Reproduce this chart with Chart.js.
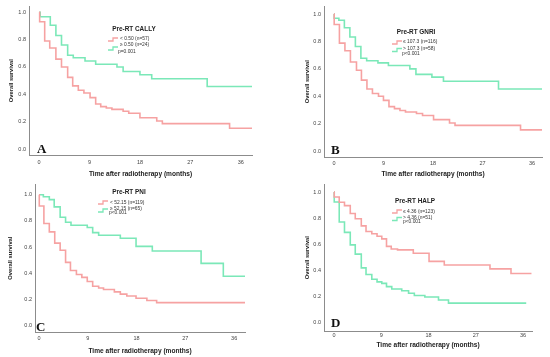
<!DOCTYPE html>
<html>
<head>
<meta charset="utf-8">
<script src="https://cdn.jsdelivr.net/npm/chart.js@4/dist/chart.umd.min.js"></script>
<style>
  html, body { margin: 0; padding: 0; background: #fff; }
  #wrap { position: relative; width: 550px; height: 357px; overflow: hidden; }
  .pane { position: absolute; }
</style>
</head>
<body>
<div id="wrap">
  <div class="pane" style="left:0;top:0;width:275px;height:178px"><canvas id="cA"></canvas></div>
  <div class="pane" style="left:275px;top:0;width:275px;height:178px"><canvas id="cB"></canvas></div>
  <div class="pane" style="left:0;top:178px;width:275px;height:179px"><canvas id="cC"></canvas></div>
  <div class="pane" style="left:275px;top:178px;width:275px;height:179px"><canvas id="cD"></canvas></div>
</div>
<script>
// ---- datos ----
const xTicks = [0, 9, 18, 27, 36];
const yTicks = [0, 0.2, 0.4, 0.6, 0.8, 1.0];

// A: CALLY
const callyLowT  = [0, 0.1, 1.0, 1.9, 3.0, 4.0, 5.1, 6.0, 7.0, 8.0, 9.1, 10.1, 11.0, 12.0, 13.0, 15.0, 16.0, 18.0, 21.0, 22.0, 34.0, 38.0];
const callyLowS  = [1.0, 0.93, 0.79, 0.738, 0.657, 0.6, 0.524, 0.462, 0.43, 0.41, 0.376, 0.33, 0.31, 0.30, 0.29, 0.276, 0.262, 0.229, 0.205, 0.186, 0.152, 0.152];
const callyHighT = [0, 0.2, 2.0, 3.0, 4.0, 5.1, 6.1, 8.2, 10.1, 13.9, 15.0, 18.0, 20.1, 30.0, 38.0];
const callyHighS = [1.0, 0.967, 0.905, 0.83, 0.76, 0.686, 0.667, 0.643, 0.62, 0.60, 0.567, 0.543, 0.514, 0.457, 0.457];

// B: GNRI
const gnriLowT  = [0, 0.05, 1.0, 2.0, 3.0, 4.1, 5.0, 6.0, 7.0, 8.1, 9.0, 10.0, 11.0, 12.0, 13.0, 15.0, 16.1, 18.1, 21.0, 22.0, 33.9, 37.8];
const gnriLowS  = [1.0, 0.924, 0.788, 0.733, 0.65, 0.59, 0.518, 0.453, 0.42, 0.40, 0.37, 0.325, 0.31, 0.296, 0.286, 0.275, 0.26, 0.23, 0.205, 0.188, 0.155, 0.155];
const gnriHighT = [0, 0.05, 0.9, 1.9, 2.9, 3.9, 4.9, 5.95, 8.0, 9.9, 13.8, 14.9, 17.8, 19.9, 29.9, 37.8];
const gnriHighS = [1.0, 0.97, 0.955, 0.9, 0.833, 0.764, 0.678, 0.66, 0.644, 0.625, 0.60, 0.56, 0.54, 0.51, 0.453, 0.453];

// C: PNI
const pniLowT  = [0, 0.05, 0.9, 1.9, 2.9, 3.9, 4.9, 5.8, 6.9, 7.9, 8.9, 9.9, 11.0, 11.9, 13.9, 15.0, 16.2, 17.9, 19.9, 21.7, 38.0];
const pniLowS  = [1.0, 0.914, 0.78, 0.716, 0.63, 0.576, 0.483, 0.42, 0.39, 0.368, 0.336, 0.30, 0.287, 0.275, 0.257, 0.24, 0.225, 0.208, 0.191, 0.175, 0.175];
const pniHighT = [0, 0.8, 1.9, 2.8, 3.9, 4.9, 5.9, 8.9, 9.9, 11.0, 15.0, 17.9, 20.9, 29.9, 34.0, 38.0];
const pniHighS = [1.0, 0.985, 0.963, 0.907, 0.828, 0.79, 0.767, 0.75, 0.71, 0.69, 0.667, 0.605, 0.57, 0.475, 0.377, 0.377];

// D: HALP (rojo = ≤ 4.36, verde = > 4.36)
const halpLowT  = [0, 0.05, 1.0, 2.0, 3.1, 4.05, 5.2, 6.1, 7.2, 8.2, 9.1, 10.0, 10.9, 12.1, 15.1, 18.1, 21.0, 29.7, 33.7, 37.6];
const halpLowS  = [1.0, 0.962, 0.922, 0.896, 0.836, 0.795, 0.74, 0.697, 0.68, 0.66, 0.64, 0.583, 0.563, 0.556, 0.53, 0.467, 0.44, 0.41, 0.374, 0.374];
const halpHighT = [0, 0.05, 1.0, 2.0, 3.1, 4.05, 5.2, 6.1, 7.2, 8.2, 9.1, 10.0, 11.0, 12.9, 14.2, 15.3, 17.3, 19.9, 21.8, 36.6];
const halpHighS = [1.0, 0.924, 0.77, 0.69, 0.594, 0.523, 0.417, 0.366, 0.33, 0.31, 0.298, 0.273, 0.255, 0.242, 0.222, 0.205, 0.194, 0.17, 0.146, 0.146];

const legendTitles = ['Pre-RT CALLY', 'Pre-RT GNRI', 'Pre-RT PNI', 'Pre-RT HALP'];
const redLabels    = ['< 0.50 (n=57)', '≤ 107.3 (n=116)', '< 52.15 (n=119)', '≤ 4.36 (n=123)'];
const greenLabels  = ['≥ 0.50 (n=24)', '> 107.3 (n=58)', '≥ 52.15 (n=65)', '> 4.36 (n=51)'];
const pValues      = ['p=0.001', 'p<0.001', 'p<0.001', 'p<0.001'];
const panelLetters = ['A', 'B', 'C', 'D'];

const RED = '#f6a2a2';
const GREEN = '#7be8b8';
const SANS = '"Liberation Sans", Arial, sans-serif';

const pts = (t, s) => t.map((x, i) => ({ x, y: s[i] }));

// Leyenda tipo SPSS + letra del panel (coordenadas locales del canvas)
const kmLegend = {
  id: 'kmLegend',
  afterDraw(chart, args, o) {
    const c = chart.ctx;
    c.save();
    c.fillStyle = '#222';
    c.textBaseline = 'middle';
    c.font = `bold 6.4px ${SANS}`;
    c.textAlign = 'center';
    c.fillText(o.title, o.cx, o.ty);

    const icon = (y, col) => {
      c.strokeStyle = col; c.lineWidth = 1.3;
      c.beginPath();
      c.moveTo(o.ix, y + 1.5); c.lineTo(o.ix + 5, y + 1.5);
      c.lineTo(o.ix + 5, y - 1.5); c.lineTo(o.ix + 10, y - 1.5);
      c.stroke();
    };
    icon(o.i1, RED);
    icon(o.i2, GREEN);

    c.font = `4.9px ${SANS}`;
    c.textAlign = 'left';
    c.fillStyle = '#333';
    c.fillText(o.red, o.tx, o.t1);
    c.fillText(o.green, o.tx, o.t2);
    c.fillText(o.p, o.px, o.py);

    c.font = `bold 13px "Liberation Serif", "Times New Roman", serif`;
    c.textBaseline = 'alphabetic';
    c.fillStyle = '#111';
    c.fillText(o.letter, o.lx, o.ly);
    c.restore();
  }
};

function panel(id, k, low, high, g) {
  new Chart(document.getElementById(id), {
    type: 'line',
    data: {
      datasets: [
        { data: low,  borderColor: RED,   borderWidth: 1.6, stepped: true, pointRadius: 0, fill: false },
        { data: high, borderColor: GREEN, borderWidth: 1.6, stepped: true, pointRadius: 0, fill: false },
      ],
    },
    options: {
      responsive: true, maintainAspectRatio: false, animation: false,
      layout: { padding: { left: 0, right: g.pr, top: g.pt, bottom: 0 } },
      plugins: {
        legend: { display: false }, tooltip: { enabled: false },
        kmLegend: {
          title: legendTitles[k], red: redLabels[k], green: greenLabels[k], p: pValues[k], letter: panelLetters[k],
          ...g.leg,
        },
      },
      scales: {
        x: {
          type: 'linear', min: g.xmin, max: g.xmax,
          afterBuildTicks: (s) => { s.ticks = xTicks.map((v) => ({ value: v })); },
          afterFit: (s) => { s.height = g.xh; },
          grid: { display: false, drawTicks: false },
          border: { display: true, color: '#8c8c8c', width: 1 },
          ticks: { color: '#444', font: { family: SANS, size: 5.5 }, padding: g.xtp, maxRotation: 0 },
          title: { display: true, text: 'Time after radiotherapy (months)', color: '#222',
                   font: { family: SANS, size: 6.6, weight: 'bold' }, padding: { top: 0, bottom: g.xtb } },
        },
        y: {
          min: g.ymin, max: g.ymax,
          afterBuildTicks: (s) => { s.ticks = yTicks.map((v) => ({ value: v })); },
          afterFit: (s) => { s.width = g.yw; },
          grid: { display: false, drawTicks: false },
          border: { display: true, color: '#8c8c8c', width: 1 },
          ticks: { color: '#444', font: { family: SANS, size: 5.5 }, padding: 3, callback: (v) => v.toFixed(1) },
          title: { display: true, text: 'Overall survival', color: '#222',
                   font: { family: SANS, size: 5.8, weight: 'bold' }, padding: { top: g.ytp, bottom: 0 } },
        },
      },
    },
    plugins: [kmLegend],
  });
}

panel('cA', 0, pts(callyLowT, callyLowS), pts(callyHighT, callyHighS), {
  xmin: -1.8, xmax: 38, ymin: -0.043, ymax: 1.043, yw: 29, xh: 23, pr: 23, pt: 3, xtp: 4, xtb: 0, ytp: 7.5,
  leg: { cx: 134, ty: 29, ix: 108, i1: 39.5, i2: 48.5, tx: 120, t1: 39, t2: 45, px: 118, py: 52, lx: 37, ly: 153 },
});
panel('cB', 1, pts(gnriLowT, gnriLowS), pts(gnriHighT, gnriHighS), {
  xmin: -1.8, xmax: 37.8, ymin: -0.043, ymax: 1.057, yw: 49, xh: 21, pr: 8, pt: 3, xtp: 3, xtb: 0, ytp: 28.5,
  leg: { cx: 141, ty: 32, ix: 117, i1: 42.5, i2: 50, tx: 128, t1: 42, t2: 48.5, px: 127, py: 53.5, lx: 56, ly: 154 },
});
panel('cC', 2, pts(pniLowT, pniLowS), pts(pniHighT, pniHighS), {
  xmin: -0.74, xmax: 38, ymin: -0.05, ymax: 1.08, yw: 35, xh: 25, pr: 30, pt: 0, xtp: 3, xtb: 2, ytp: 6.5,
  leg: { cx: 129, ty: 14, ix: 98, i1: 24.5, i2: 32.5, tx: 110, t1: 24.7, t2: 30.7, px: 109, py: 35, lx: 36, ly: 153 },
});
panel('cD', 3, pts(halpLowT, halpLowS), pts(halpHighT, halpHighS), {
  xmin: -1.9, xmax: 37.7, ymin: -0.068, ymax: 1.06, yw: 49, xh: 26, pr: 18, pt: 4, xtp: 1, xtb: 8, ytp: 28.5,
  leg: { cx: 140, ty: 23.3, ix: 117, i1: 33.5, i2: 41, tx: 128, t1: 33.3, t2: 40, px: 128, py: 43.3, lx: 56, ly: 149 },
});
</script>
</body>
</html>
